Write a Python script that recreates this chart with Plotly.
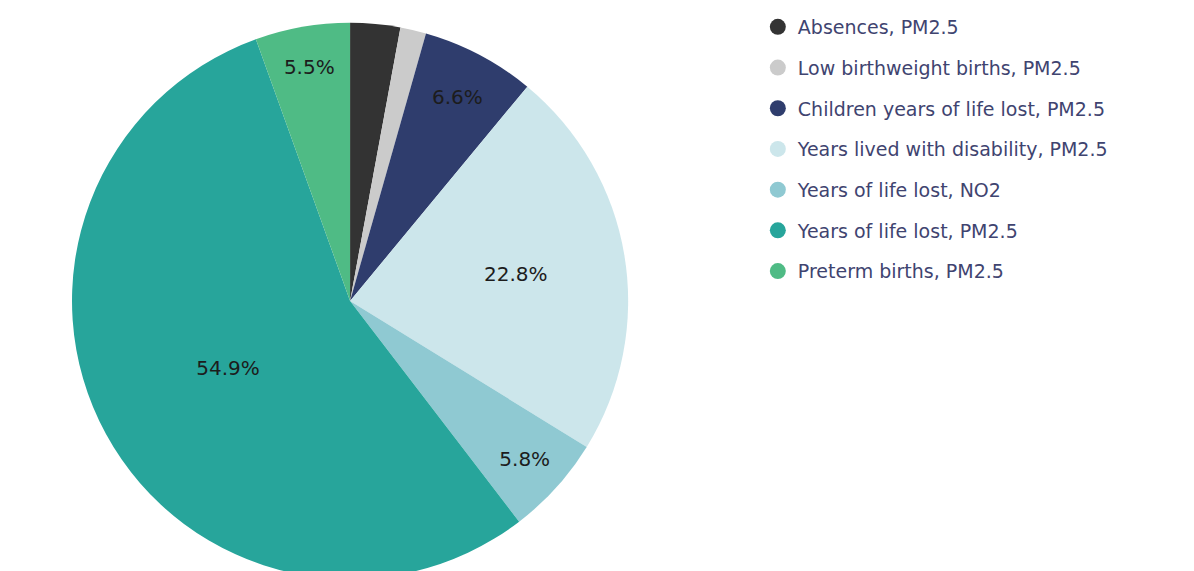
import plotly.graph_objects as go

labels = [
    "Absences, PM2.5",
    "Low birthweight births, PM2.5",
    "Children years of life lost, PM2.5",
    "Years lived with disability, PM2.5",
    "Years of life lost, NO2",
    "Years of life lost, PM2.5",
    "Preterm births, PM2.5",
]
values = [2.9, 1.5, 6.6, 22.8, 5.8, 54.9, 5.5]
colors = ["#333333", "#cbcbcb", "#2f3d6d", "#cce6eb", "#8fc9d2", "#27a59b", "#4fbb85"]

texts = [f"{v:.1f}%" if v >= 5 else "" for v in values]

fig = go.Figure()
fig.add_trace(go.Pie(
    labels=labels, values=values, text=texts, textinfo="text",
    textposition="inside", insidetextorientation="horizontal",
    marker=dict(colors=colors, line=dict(width=0)),
    sort=False, direction="clockwise", rotation=0,
    textfont=dict(family="DejaVu Sans", size=20, color="#1c1c1c"),
    showlegend=False,
    domain=dict(x=[0.045, 0.528], y=[0.0, 0.974]),
    hoverinfo="label+percent",
))
for i, (lab, col) in enumerate(zip(labels, colors)):
    fig.add_trace(go.Scatter(
        x=[None], y=[None], mode="markers", name=lab,
        marker=dict(symbol="circle", size=17, color=col),
        legendgroup=f"g{i}", showlegend=True,
    ))

fig.update_layout(
    width=1194, height=571,
    margin=dict(l=0, r=0, t=0, b=0),
    paper_bgcolor="white", plot_bgcolor="white",
    xaxis=dict(visible=False), yaxis=dict(visible=False),
    legend=dict(
        x=0.628, y=1.0, xanchor="left", yanchor="top",
        font=dict(family="DejaVu Sans", size=19, color="#3f4470"),
        tracegroupgap=13, itemsizing="trace",
        bgcolor="rgba(0,0,0,0)",
    ),
)
fig.write_html("out.html")
